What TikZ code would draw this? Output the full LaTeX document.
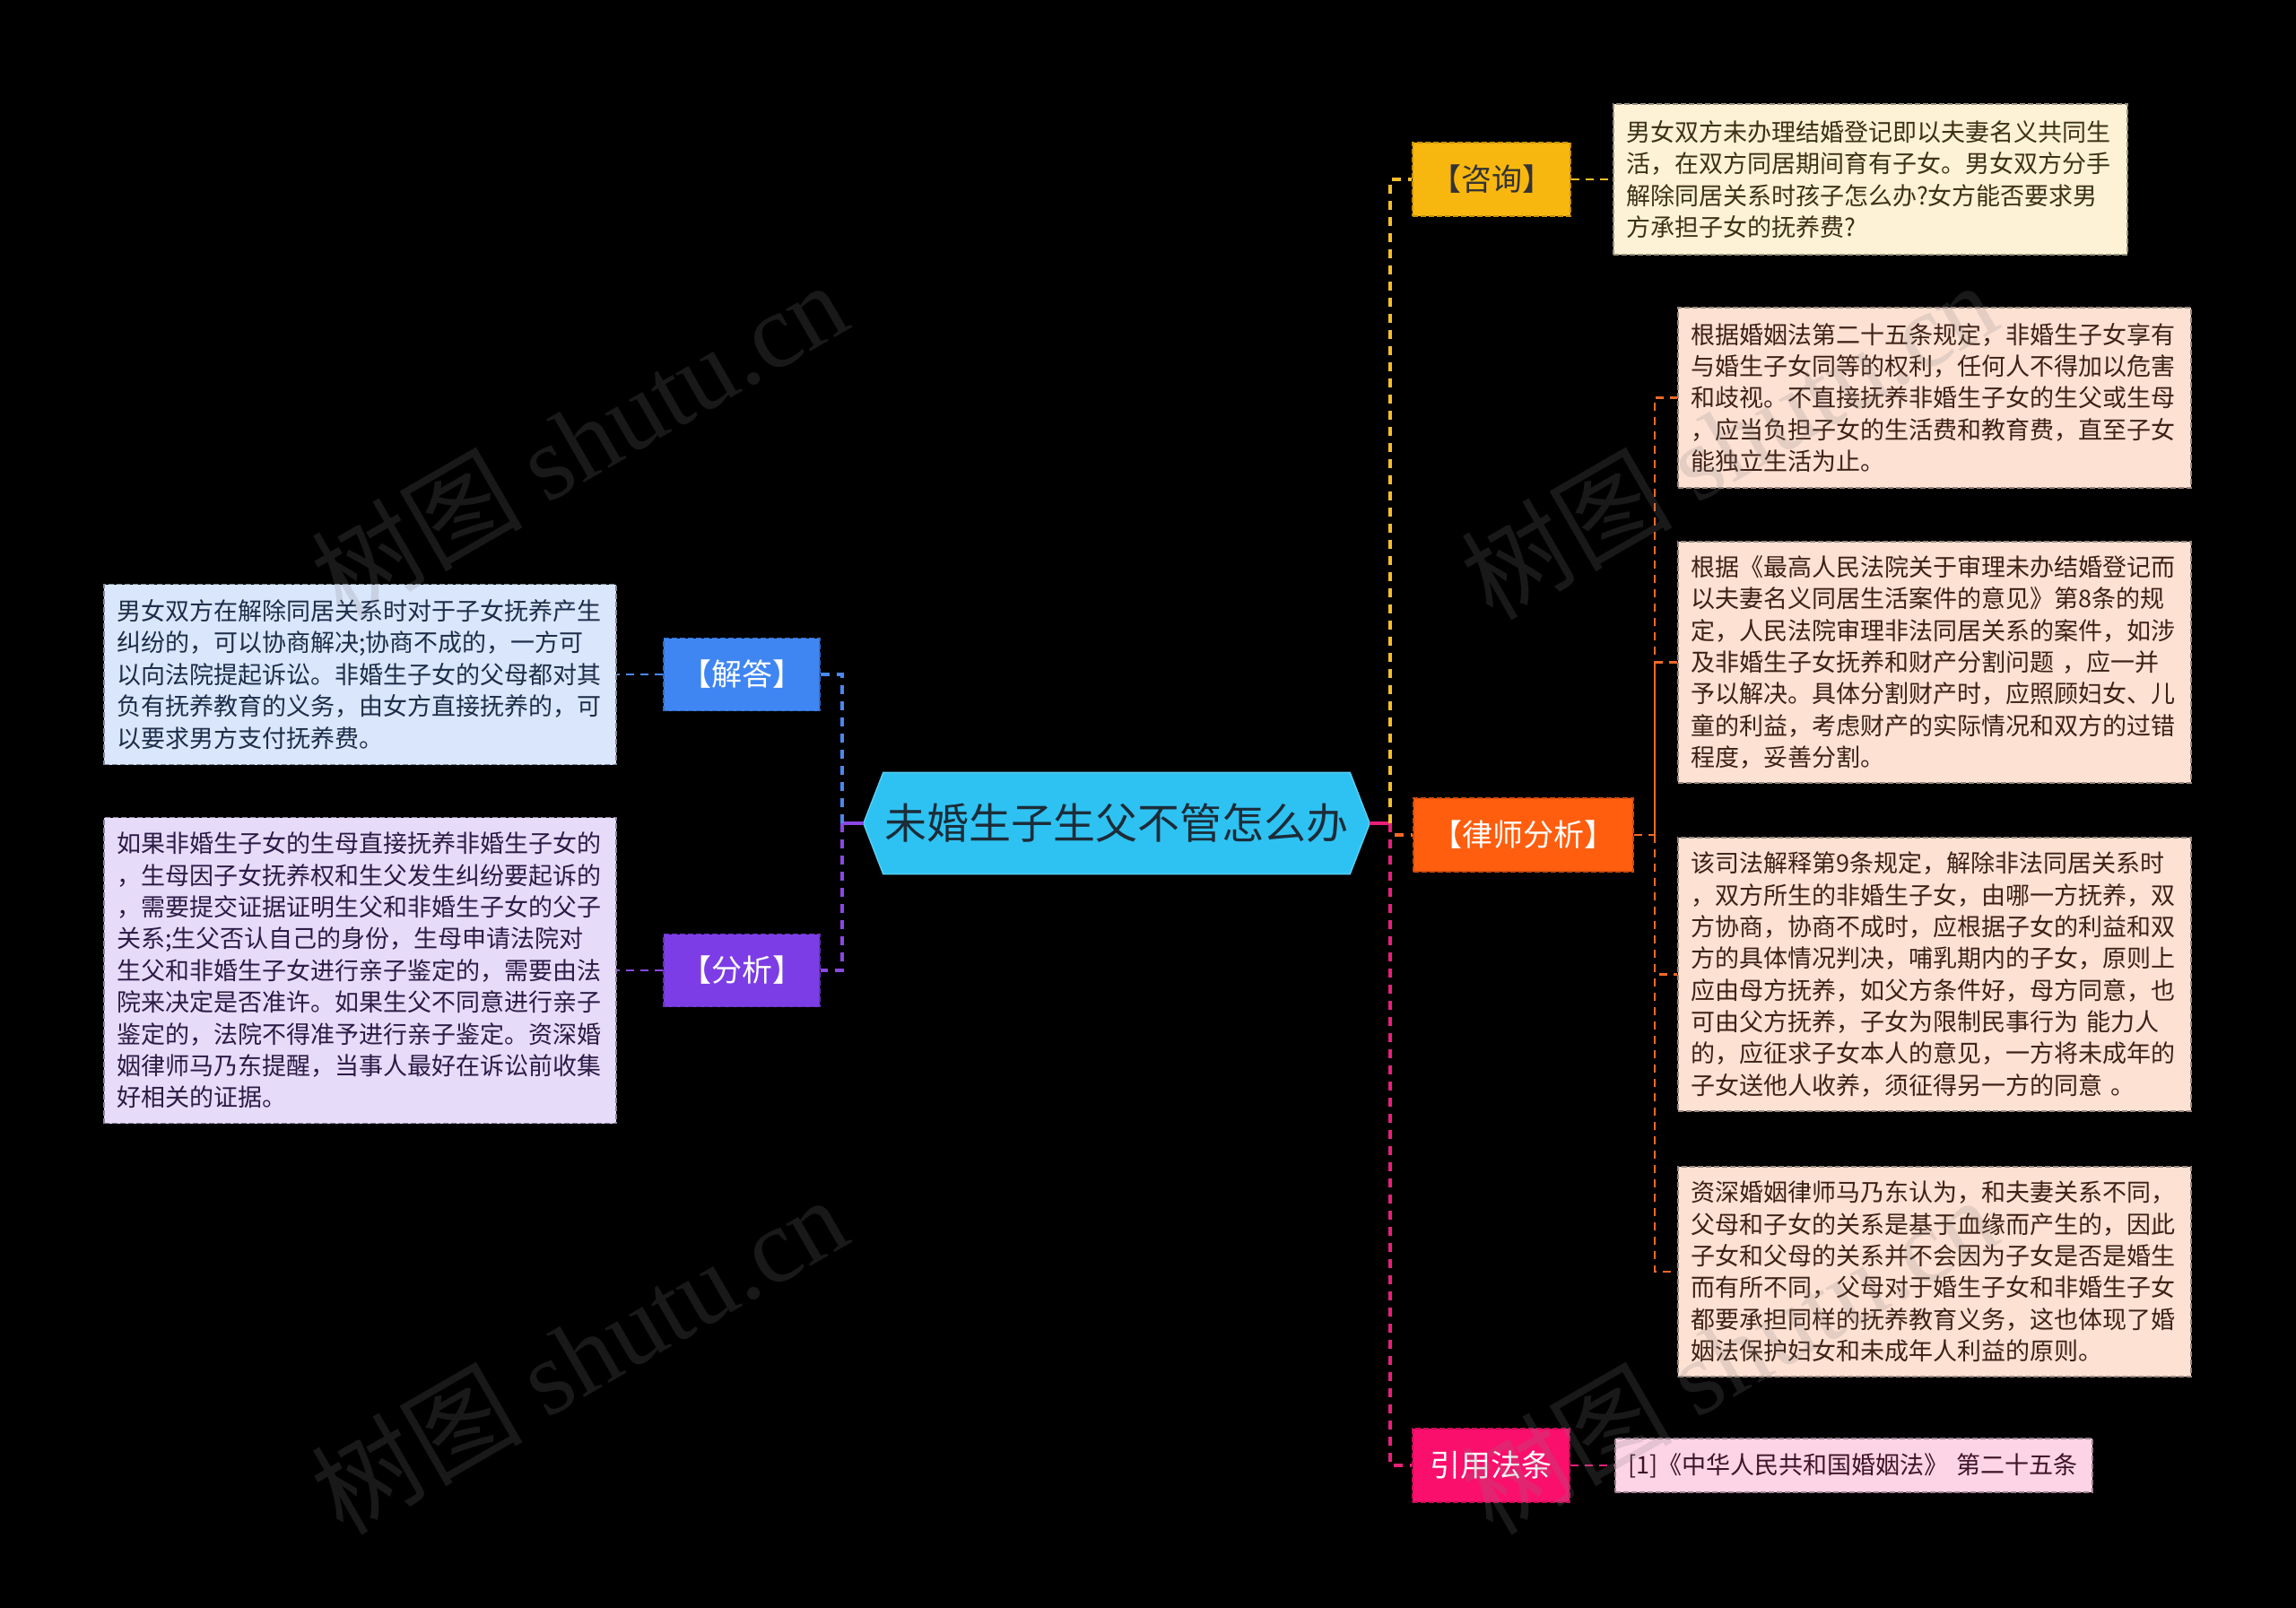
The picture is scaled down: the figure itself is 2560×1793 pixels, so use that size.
\documentclass[tikz,border=0pt]{standalone}
\usepackage{fontspec}
\setmainfont{Noto Sans CJK SC}
\newfontfamily\wmserif{Liberation Serif}
\usetikzlibrary{backgrounds}
\definecolor{rootc}{HTML}{2EC2F2}
\definecolor{roottx}{HTML}{1C2C38}
\definecolor{cYel}{HTML}{F8B70F}
\definecolor{cOra}{HTML}{FF5E0F}
\definecolor{cPnk}{HTML}{FA0F6C}
\definecolor{cBlu}{HTML}{3F86F2}
\definecolor{cPur}{HTML}{7D3DE6}
\definecolor{lYel}{HTML}{FDF2D5}
\definecolor{lOra}{HTML}{FDE1D3}
\definecolor{lPnk}{HTML}{FDD3E6}
\definecolor{lBlu}{HTML}{D9E6FC}
\definecolor{lPur}{HTML}{E7DBFA}
\definecolor{tYel}{HTML}{3C3018}
\definecolor{tOra}{HTML}{3E2116}
\definecolor{tPnk}{HTML}{3E1426}
\definecolor{tBlu}{HTML}{1E2C48}
\definecolor{tPur}{HTML}{2B1B45}
\definecolor{kYel}{HTML}{F5BE2A}
\definecolor{kOra}{HTML}{F36A26}
\definecolor{kPnk}{HTML}{E8207A}
\definecolor{kBlu}{HTML}{4A88F0}
\definecolor{kPur}{HTML}{8A48E4}
\tikzset{
  branchbox/.style={rectangle, draw, line width=1.5pt, dash pattern=on 6pt off 3pt,
    minimum height=82pt, inner sep=0pt, font=\fontsize{34}{38}\selectfont},
  detailbox/.style={rectangle, draw, line width=1.5pt, dash pattern=on 6pt off 3pt,
    inner xsep=14pt, inner ysep=0pt, align=left, font=\fontsize{27}{35.4}\selectfont},
  trunk/.style={line width=3.5pt, dash pattern=on 10pt off 8pt},
  twig/.style={line width=2.5pt, dash pattern=on 9pt off 7pt},
  wmark/.style={text=gray, opacity=0.2, rotate=30, font=\fontsize{118}{120}\selectfont, inner sep=0pt}
}
\begin{document}
\begin{tikzpicture}[x=1pt,y=-1pt]
\begin{scope}[on background layer]
\fill[black] (0,0) rectangle (2560,1793);
\end{scope}
\useasboundingbox (0,0) rectangle (2560,1793);

% root
\node[minimum width=564pt, minimum height=113pt, inner sep=0pt, text=roottx,
  font=\fontsize{47}{50}\selectfont] (root) at (1245,918) {未婚生子生父不管怎么办};
\begin{scope}[on background layer]
\filldraw[fill=rootc, draw=rootc!80!white, line width=1.5pt]
  (root.west) -- ([xshift=22pt]root.north west) -- ([xshift=-22pt]root.north east)
  -- (root.east) -- ([xshift=-22pt]root.south east) -- ([xshift=22pt]root.south west) -- cycle;
\end{scope}

% branches
\node[branchbox, fill=cYel, draw=cYel!80!black, text=black!80, minimum width=176pt] (zixun) at (1663,200) {【咨询】};
\node[branchbox, fill=cOra, draw=cOra!80!black, text=white, minimum width=245pt] (lvshi) at (1698.5,931) {【律师分析】};
\node[branchbox, fill=cPnk, draw=cPnk!80!black, text=white, minimum width=175pt] (yinyong) at (1662.5,1634) {引用法条};
\node[branchbox, fill=cBlu, draw=cBlu!80!black, text=white, minimum width=174pt, minimum height=81pt] (jieda) at (827,752) {【解答】};
\node[branchbox, fill=cPur, draw=cPur!80!black, text=white, minimum width=174pt, minimum height=81pt] (fenxi) at (827,1082) {【分析】};

% details
\node[detailbox, fill=lYel, draw=lYel!60!black, text=tYel, text width=545pt, minimum height=168pt] (zxd) at (2085.5,200) {男女双方未办理结婚登记即以夫妻名义共同生\\活，在双方同居期间育有子女。男女双方分手\\解除同居关系时孩子怎么办?女方能否要求男\\方承担子女的抚养费?};

\node[detailbox, fill=lOra, draw=lOra!60!black, text=tOra, text width=544pt, minimum height=201pt] (ld1) at (2157,443.5) {根据婚姻法第二十五条规定，非婚生子女享有\\与婚生子女同等的权利，任何人不得加以危害\\和歧视。不直接抚养非婚生子女的生父或生母\\，应当负担子女的生活费和教育费，直至子女\\能独立生活为止。};

\node[detailbox, fill=lOra, draw=lOra!60!black, text=tOra, text width=544pt, minimum height=269pt] (ld2) at (2157,738.5) {根据《最高人民法院关于审理未办结婚登记而\\以夫妻名义同居生活案件的意见》第8条的规\\定，人民法院审理非法同居关系的案件，如涉\\及非婚生子女抚养和财产分割问题 ，应一并\\予以解决。具体分割财产时，应照顾妇女、儿\\童的利益，考虑财产的实际情况和双方的过错\\程度，妥善分割。};

\node[detailbox, fill=lOra, draw=lOra!60!black, text=tOra, text width=544pt, minimum height=305pt] (ld3) at (2157,1086.5) {该司法解释第9条规定，解除非法同居关系时\\，双方所生的非婚生子女，由哪一方抚养，双\\方协商，协商不成时，应根据子女的利益和双\\方的具体情况判决，哺乳期内的子女，原则上\\应由母方抚养，如父方条件好，母方同意，也\\可由父方抚养，子女为限制民事行为 能力人\\的，应征求子女本人的意见，一方将未成年的\\子女送他人收养，须征得另一方的同意 。};

\node[detailbox, fill=lOra, draw=lOra!60!black, text=tOra, text width=544pt, minimum height=234pt] (ld4) at (2157,1418) {资深婚姻律师马乃东认为，和夫妻关系不同，\\父母和子女的关系是基于血缘而产生的，因此\\子女和父母的关系并不会因为子女是否是婚生\\而有所不同，父母对于婚生子女和非婚生子女\\都要承担同样的抚养教育义务，这也体现了婚\\姻法保护妇女和未成年人利益的原则。};

\node[detailbox, fill=lPnk, draw=lPnk!60!black, text=tPnk, text width=504pt, minimum height=60pt] (yyd) at (2067,1634) {[1]《中华人民共和国婚姻法》 第二十五条};

\node[detailbox, fill=lBlu, draw=lBlu!60!black, text=tBlu, text width=543pt, minimum height=201pt] (jdd) at (401.5,752) {男女双方在解除同居关系时对于子女抚养产生\\纠纷的，可以协商解决;协商不成的，一方可\\以向法院提起诉讼。非婚生子女的父母都对其\\负有抚养教育的义务，由女方直接抚养的，可\\以要求男方支付抚养费。};

\node[detailbox, fill=lPur, draw=lPur!60!black, text=tPur, text width=543pt, minimum height=341pt] (fxd) at (401.5,1082) {如果非婚生子女的生母直接抚养非婚生子女的\\，生母因子女抚养权和生父发生纠纷要起诉的\\，需要提交证据证明生父和非婚生子女的父子\\关系;生父否认自己的身份，生母申请法院对\\生父和非婚生子女进行亲子鉴定的，需要由法\\院来决定是否准许。如果生父不同意进行亲子\\鉴定的，法院不得准予进行亲子鉴定。资深婚\\姻律师马乃东提醒，当事人最好在诉讼前收集\\好相关的证据。};

% junctions
\coordinate (jr) at (1550,918);
\coordinate (jl) at (939,918);
\coordinate (jls) at (1845,931);

% trunk connectors
\draw[kPnk, line width=3.5pt] (root.east) -- (jr);
\draw[kPur, line width=3.5pt] (root.west) -- (jl);
\draw[trunk, kYel] (jr) |- (zixun.west);
\draw[trunk, kOra] (jr) |- (lvshi.west);
\draw[trunk, kPnk] (jr) |- (yinyong.west);
\draw[trunk, kBlu] (jl) |- (jieda.east);
\draw[trunk, kPur] (jl) |- (fenxi.east);

% twig connectors
\draw[twig, kYel] (zixun.east) -- (zxd.west);
\draw[twig, kOra] (lvshi.east) -- (jls) |- (ld1.west);
\draw[twig, kOra] (jls) |- (ld2.west);
\draw[twig, kOra] (jls) |- (ld3.west);
\draw[twig, kOra] (jls) |- (ld4.west);
\draw[twig, kPnk] (yinyong.east) -- (yyd.west);
\draw[twig, kBlu] (jieda.west) -- (jdd.east);
\draw[twig, kPur] (fenxi.west) -- (fxd.east);

% watermarks
\node[wmark] (wm1) at (645,490) {树图 {\wmserif shutu.cn}};
\node[wmark] (wm2) at (645,1510) {树图 {\wmserif shutu.cn}};
\node[wmark] (wm3) at (1927,490) {树图 {\wmserif shutu.cn}};
\node[wmark] (wm4) at (1927,1510) {树图 {\wmserif shutu.cn}};
\end{tikzpicture}
\end{document}
